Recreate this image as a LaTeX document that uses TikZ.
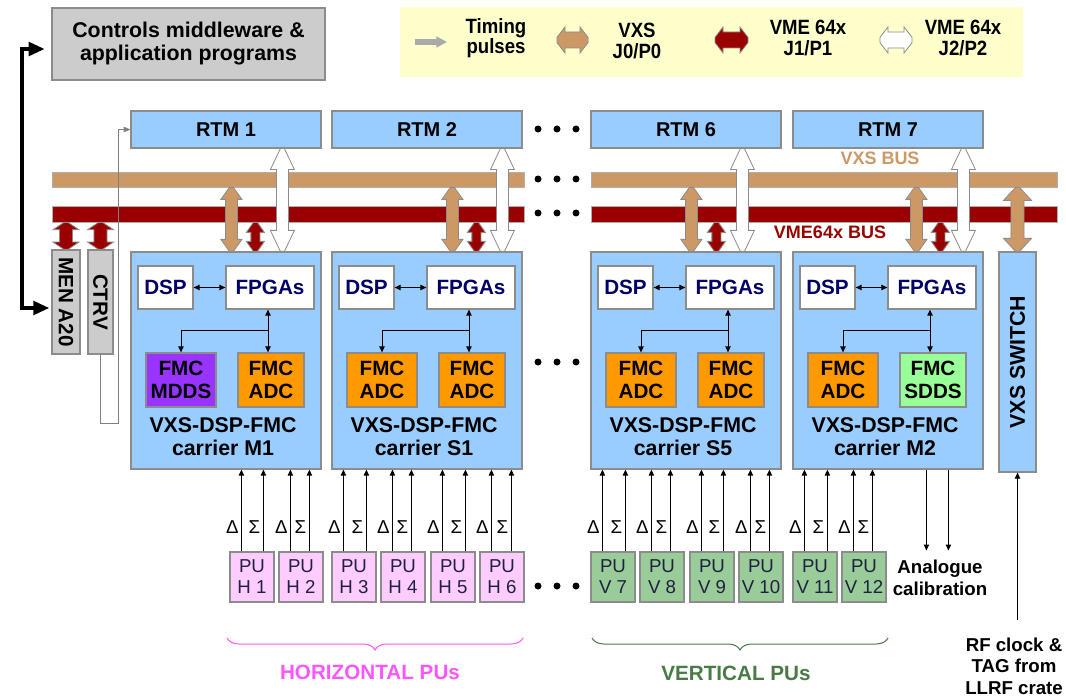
\documentclass[tikz,border=0pt]{standalone}
\usepackage{fontspec}
\setmainfont{Liberation Sans}
\newfontfamily\narrowfont[FakeStretch=0.9]{Liberation Sans}
\usetikzlibrary{fit,calc,arrows.meta,decorations.pathreplacing}
\definecolor{boxblue}{HTML}{99CCFF}
\definecolor{edgegray}{HTML}{8C8C8C}
\definecolor{ctrlgray}{HTML}{CCCCCC}
\definecolor{vxstan}{HTML}{CC9966}
\definecolor{vmered}{HTML}{990000}
\definecolor{fmcorange}{HTML}{FF9900}
\definecolor{mddspurple}{HTML}{9933FF}
\definecolor{sddsgreen}{HTML}{99FF99}
\definecolor{pupink}{HTML}{FFCCFF}
\definecolor{pugreen}{HTML}{99CC99}
\definecolor{legendyellow}{HTML}{FFFFCC}
\definecolor{dspnavy}{HTML}{000066}
\definecolor{putext}{HTML}{202040}
\definecolor{hmagenta}{HTML}{FF55FF}
\definecolor{vgreen}{HTML}{4A7A45}
\definecolor{timegray}{HTML}{808080}
\definecolor{lggray}{HTML}{AAAAAA}
% vertical fat double arrow: top point, bottom point, shaft half, head half, head length, fill
\newcommand\fatv[6]{\path[fat, fill=#6] let \p1=(#1), \p2=(#2) in
  (\x1-1.5pt,\y1) -- (\x1-#4,\y1-#5) -- (\x1-#3,\y1-#5) -- (\x1-#3,\y2+#5) -- (\x1-#4,\y2+#5) -- (\x1-1.5pt,\y2)
  -- (\x1+1.5pt,\y2) -- (\x1+#4,\y2+#5) -- (\x1+#3,\y2+#5) -- (\x1+#3,\y1-#5) -- (\x1+#4,\y1-#5) -- (\x1+1.5pt,\y1) -- cycle;}
% horizontal fat double arrow: left point, right point, shaft half, head half, head length, fill
\newcommand\fath[6]{\path[fat, fill=#6] let \p1=(#1), \p2=(#2) in
  (\x1,\y1-2pt) -- (\x1+#5,\y1-#4) -- (\x1+#5,\y1-#3) -- (\x2-#5,\y1-#3) -- (\x2-#5,\y1-#4) -- (\x2,\y1-2pt)
  -- (\x2,\y1+2pt) -- (\x2-#5,\y1+#4) -- (\x2-#5,\y1+#3) -- (\x1+#5,\y1+#3) -- (\x1+#5,\y1+#4) -- (\x1,\y1+2pt) -- cycle;}
\begin{document}
\begin{tikzpicture}[x=0.75pt,y=-0.75pt,
  rectpx/.style n args={4}{minimum width={(#3-(#1))*0.75pt}, minimum height={(#4-(#2))*0.75pt},
     at={({((#1)+(#3))/2},{((#2)+(#4))/2})}},
  box/.style={draw=edgegray, line width=0.9pt, inner sep=0pt},
  bluebox/.style={box, fill=boxblue},
  rtm/.style={bluebox, font=\fontsize{15}{17}\selectfont\bfseries},
  busbar/.style={draw=edgegray!70, line width=0.6pt, inner sep=0pt},
  chip/.style={box, fill=white, text=dspnavy, font=\fontsize{15.5}{17}\selectfont\bfseries},
  fmcbox/.style={box, align=center, font=\fontsize{15.5}{17.25}\selectfont\bfseries},
  carlbl/.style={align=center, inner sep=0pt, font=\fontsize{16}{17.25}\selectfont\bfseries},
  graybox/.style={box, fill=ctrlgray},
  vlabel/.style={inner sep=0pt, font=\fontsize{15.5}{17}\selectfont\bfseries},
  pubox/.style={box, align=center, text=putext, font=\fontsize{14}{15.75}\selectfont},
  greek/.style={inner sep=0pt, font=\fontsize{14}{16}\selectfont},
  note/.style={align=center, inner sep=0pt, font=\fontsize{14}{16.2}\selectfont\bfseries},
  legtext/.style={align=center, inner sep=0pt, font=\narrowfont\fontsize{15.5}{15.5}\selectfont\bfseries},
  buslbl/.style={inner sep=0pt, font=\fontsize{13.5}{15}\selectfont\bfseries},
  grouplbl/.style={inner sep=0pt, font=\fontsize{15.5}{17}\selectfont\bfseries},
  fat/.style={draw=edgegray, line width=0.6pt},
  sig/.style={line width=0.75pt, -{Triangle[length=4.5pt,width=4pt]}},
  twoway/.style={line width=0.75pt, {Triangle[length=4.5pt,width=4pt]}-{Triangle[length=4.5pt,width=4pt]}},
  timing/.style={draw=timegray, line width=0.75pt, -{Triangle[length=5pt,width=4pt]}},
  bigarrow/.style={line width=3pt, {Triangle[length=12pt,width=10pt]}-{Triangle[length=12pt,width=10pt]}},
  bracestyle/.style={decorate, decoration={brace, amplitude=9pt}, line width=0.75pt}]
\useasboundingbox (0,0) rectangle (1066,698);
\fill[white] (0,0) rectangle (1066,698);

% ---------- legend ----------
\node[fill=legendyellow, inner sep=0pt, rectpx={400}{7}{1023}{77}] (legend) {};
\coordinate (lgtA) at (415,42); \coordinate (lgtB) at (447,42);
\draw[draw=lggray, line width=4.5pt, -{Triangle[length=8pt,width=8pt]}] (lgtA) -- (lgtB);
\node[legtext] (lgtime) at (496,38) {Timing\\pulses};
\coordinate (lgvA) at (557,40); \coordinate (lgvB) at (588,40);
\fath{lgvA}{lgvB}{6pt}{9.75pt}{6pt}{vxstan}
\node[legtext] (lgvxs) at (637,41) {VXS\\J0/P0};
\coordinate (lgrA) at (715,40); \coordinate (lgrB) at (748,40);
\fath{lgrA}{lgrB}{6pt}{9.75pt}{6pt}{vmered}
\node[legtext] (lgvme1) at (808,38) {VME 64x\\J1/P1};
\coordinate (lgwA) at (880,40); \coordinate (lgwB) at (912,40);
\fath{lgwA}{lgwB}{6pt}{9.75pt}{6pt}{white}
\node[legtext] (lgvme2) at (963,38) {VME 64x\\J2/P2};

% ---------- controls box ----------
\node[graybox, align=center, font=\fontsize{16}{17.25}\selectfont\bfseries, rectpx={52}{8}{325}{80}] (ctrl) {Controls middleware \&\\application programs};

% ---------- buses ----------
\node[busbar, fill=vxstan, rectpx={52}{172}{524}{187}] (vxsL) {};
\node[busbar, fill=vxstan, rectpx={591}{172}{1057}{187}] (vxsR) {};
\node[busbar, fill=vmered, rectpx={52}{206}{524}{222}] (vmeL) {};
\node[busbar, fill=vmered, rectpx={591}{206}{1057}{222}] (vmeR) {};
\node[buslbl, text=vxstan] (vxslbl) at (880,158) {VXS BUS};
\node[buslbl, text=vmered] (vmelbl) at (830,232) {VME64x BUS};

% ---------- RTMs and carriers ----------
\foreach \cn/\lx/\lab/\rn/\fcola/\fta/\fcolb/\ftb in
  {m1/131/M1/1/mddspurple/MDDS/fmcorange/ADC,
   s1/332/S1/2/fmcorange/ADC/fmcorange/ADC,
   s5/591/S5/6/fmcorange/ADC/fmcorange/ADC,
   m2/793/M2/7/fmcorange/ADC/sddsgreen/SDDS}{
  \node[rtm, rectpx={\lx}{111}{\lx+190}{148}] (rtm\cn) {RTM \rn};
  \node[bluebox, rectpx={\lx}{252}{\lx+190}{469}] (\cn) {};
  \node[chip, rectpx={\lx+7}{266}{\lx+62}{309}] (dsp\cn) {DSP};
  \node[chip, rectpx={\lx+95}{266}{\lx+183}{309}] (fpga\cn) {FPGAs};
  \node[fmcbox, fill=\fcola, rectpx={\lx+15}{353}{\lx+85}{407}] (fa\cn) {FMC\\\fta};
  \node[fmcbox, fill=\fcolb, rectpx={\lx+107}{353}{\lx+173}{407}] (fb\cn) {FMC\\\ftb};
  \node[carlbl] (lbl\cn) at (\lx+92,437) {VXS-DSP-FMC\\carrier \lab};
  \draw[twoway] (dsp\cn) -- (fpga\cn);
  \coordinate (j\cn) at (\lx+137,330);
  \draw[twoway] (fpga\cn.south -| j\cn) -- (fb\cn.north -| j\cn);
  \draw[sig] (j\cn) -| (fa\cn.north);
}

% ---------- fat arrows to carriers ----------
\foreach \cn/\oa/\ob/\oc in {m1/101/125/152, s1/121/145/171, s5/101/126/152, m2/124/148/171}{
  \coordinate (ta\cn) at ($(\cn.north west)+(\oa,0)$);
  \coordinate (ra\cn) at ($(\cn.north west)+(\ob,0)$);
  \coordinate (wa\cn) at ($(\cn.north west)+(\oc,0)$);
  \coordinate (tt\cn) at (ta\cn |- vxsL.south);
  \coordinate (rt\cn) at (ra\cn |- vmeL.south);
  \coordinate (wt\cn) at (wa\cn |- rtm\cn.south);
  \edef\tmpa{tt\cn}\edef\tmpb{ta\cn}\fatv{\tmpa}{\tmpb}{4.5pt}{7.9pt}{9pt}{vxstan}
  \edef\tmpa{rt\cn}\edef\tmpb{ra\cn}\fatv{\tmpa}{\tmpb}{3.4pt}{6.75pt}{7.5pt}{vmered}
  \edef\tmpa{wt\cn}\edef\tmpb{wa\cn}\fatv{\tmpa}{\tmpb}{4.5pt}{9pt}{15.75pt}{white}
}

% ---------- MEN A20, CTRV, VXS switch ----------
\node[graybox, rectpx={52}{250}{80}{354}] (men) {};
\node[vlabel, rotate=-90] (menlbl) at (men.center) {MEN A20};
\node[graybox, rectpx={88}{250}{113}{354}] (ctrv) {};
\node[vlabel, rotate=-90] (ctrvlbl) at (ctrv.center) {CTRV};
\node[bluebox, rectpx={999}{252}{1036}{472}] (sw) {};
\node[vlabel, rotate=90, font=\fontsize{16}{17}\selectfont\bfseries] (swlbl) at (sw.center) {VXS SWITCH};
\coordinate (mentop) at (men.north |- vmeL.south);
\coordinate (ctrvtop) at (ctrv.north |- vmeL.south);
\coordinate (swtop) at (sw.north |- vxsR.south);
\fatv{mentop}{men.north}{4.9pt}{9.75pt}{5.5pt}{vmered}
\fatv{ctrvtop}{ctrv.north}{4.9pt}{9.75pt}{5.5pt}{vmered}
\fatv{swtop}{sw.north}{4.9pt}{10.5pt}{9.75pt}{vxstan}

% ---------- control network arrow and timing line ----------
\coordinate (lt) at (22,49);
\coordinate (lb) at (22,308);
\draw[bigarrow, shorten <=5pt, shorten >=1.5pt] (ctrl.west |- lt) -- (lt) -- (lb) -- (men.west |- lb);
\coordinate (tp) at (118,423);
\draw[timing] (ctrv.south) |- (tp) |- (rtmm1.west);

% ---------- pick-ups ----------
\foreach \pn/\X/\tx/\col/\car/\off in
  {h1/230/H 1/pupink/m1/34, h2/279/H 2/pupink/m1/31, h3/332/H 3/pupink/s1/35,
   h4/381/H 4/pupink/s1/31, h5/431/H 5/pupink/s1/35, h6/480/H 6/pupink/s1/32,
   v7/591/V 7/pugreen/s5/35, v8/640/V 8/pugreen/s5/31, v9/690/V 9/pugreen/s5/34,
   v10/739/V 10/pugreen/s5/31, v11/793/V 11/pugreen/m2/35, v12/842/V 12/pugreen/m2/31}{
  \node[pubox, fill=\col, rectpx={\X}{552}{\X+44}{602}] (\pn) {PU\\\tx};
  \coordinate (d\pn) at ($(\pn.north west)+(12,0)$);
  \coordinate (s\pn) at ($(\pn.north west)+(\off,0)$);
  \draw[sig] (d\pn) -- (d\pn |- \car.south);
  \draw[sig] (s\pn) -- (s\pn |- \car.south);
  \node[greek] (dl\pn) at ($(d\pn)+(-9,-24)$) {Δ};
  \node[greek] (sl\pn) at ($(s\pn)+(-9,-24)$) {Σ};
}

% ---------- analogue calibration and RF clock ----------
\node[note, font=\fontsize{14}{16.5}\selectfont\bfseries] (ac) at (940,578) {Analogue\\calibration};
\coordinate (aca) at ($(m2.south west)+(134,0)$);
\coordinate (acb) at ($(m2.south west)+(156,0)$);
\draw[sig, shorten >=7pt] (aca) -- (aca |- ac.north);
\draw[sig, shorten >=7pt] (acb) -- (acb |- ac.north);
\node[note] (rf) at (1014,666) {RF clock \&\\TAG from\\LLRF crate};
\draw[sig, shorten <=13pt] (sw.south |- rf.north) -- (sw.south);

% ---------- braces ----------
\coordinate (hbL) at (227,638); \coordinate (hbR) at (523,638);
\draw[bracestyle, draw=hmagenta] (hbR) -- (hbL);
\node[grouplbl, text=hmagenta] (hlbl) at (370,672) {HORIZONTAL PUs};
\coordinate (vbL) at (592,638); \coordinate (vbR) at (888,638);
\draw[bracestyle, draw=vgreen] (vbR) -- (vbL);
\node[grouplbl, text=vgreen] (vlbl) at (736,673) {VERTICAL PUs};

% ---------- ellipsis dots ----------
\foreach \yy in {129,179,213,362,586}
  \foreach \xx in {538,557,576}
    \fill (\xx,\yy) circle[radius=3.5];
\end{tikzpicture}
\end{document}
